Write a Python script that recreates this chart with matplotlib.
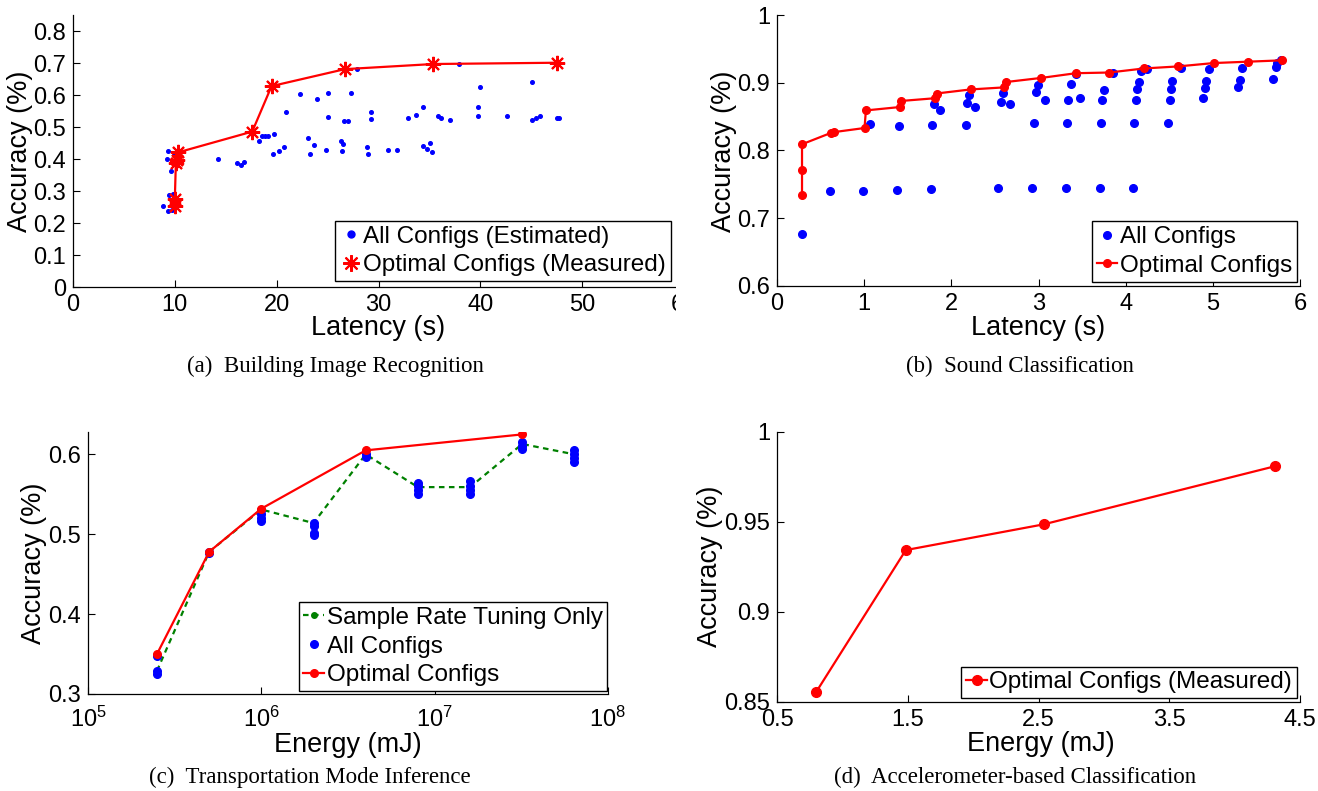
import matplotlib
matplotlib.use('Agg')
import matplotlib.pyplot as plt
import numpy as np
from matplotlib.lines import Line2D
from matplotlib.patches import Rectangle

W, H = 1318, 791
plt.rcParams['font.family'] = ['Liberation Sans', 'DejaVu Sans']
plt.rcParams['mathtext.default'] = 'regular'

# ---------------- (a) Building Image Recognition ----------------
a_all_x = [8.87, 9.34, 9.73, 9.2, 9.3, 9.6, 9.4, 9.8, 9.9, 14.2, 16.1, 16.5, 16.8, 18.3, 18.6,
           18.9, 19.1, 19.7, 19.6, 20.2, 20.7, 20.9, 22.3, 23.1, 23.3, 23.7, 24.0, 24.8, 25.0,
           25.0, 26.3, 26.5, 26.4, 26.6, 27.0, 27.3, 27.9, 28.9, 29.0, 29.3, 29.3, 30.9, 31.8,
           32.9, 33.7, 34.4, 34.4, 34.8, 35.1, 35.3, 35.8, 36.1, 37.0, 37.9, 39.8, 39.8, 40.0,
           42.6, 45.1, 45.1, 45.5, 45.9, 47.5, 47.7]
a_all_y = [0.254, 0.238, 0.241, 0.400, 0.424, 0.363, 0.288, 0.291, 0.413, 0.400, 0.387, 0.382,
           0.390, 0.456, 0.472, 0.473, 0.473, 0.478, 0.417, 0.427, 0.439, 0.546, 0.603, 0.465,
           0.415, 0.445, 0.589, 0.428, 0.608, 0.531, 0.457, 0.447, 0.424, 0.520, 0.520, 0.608,
           0.681, 0.438, 0.417, 0.548, 0.524, 0.430, 0.430, 0.528, 0.538, 0.562, 0.441, 0.432,
           0.450, 0.421, 0.536, 0.530, 0.522, 0.697, 0.562, 0.535, 0.626, 0.535, 0.642, 0.522,
           0.527, 0.535, 0.528, 0.528]
a_opt_x = [10.0, 10.0, 10.1, 10.2, 10.3, 17.6, 19.5, 26.7, 35.4, 47.5]
a_opt_y = [0.255, 0.276, 0.387, 0.397, 0.421, 0.486, 0.628, 0.681, 0.697, 0.701]

# ---------------- (b) Sound Classification ----------------
b_all_x = [0.287, 0.607, 0.992, 1.381, 1.766, 2.54, 2.926, 3.31, 3.70, 4.08,
           1.066, 1.398, 1.783, 2.168, 2.943, 3.328, 3.717, 4.10, 4.49,
           1.80, 1.865, 2.184, 2.20, 2.27, 2.574, 2.594, 2.672, 2.971, 2.99, 3.07,
           3.344, 3.377, 3.48, 3.43, 3.73, 3.746, 3.85, 4.115, 4.13, 4.15, 4.18, 4.246,
           4.504, 4.52, 4.537, 4.64, 4.89, 4.906, 4.92, 4.955, 5.29, 5.307, 5.34,
           5.693, 5.725, 5.74, 5.787]
b_all_y = [0.677, 0.740, 0.740, 0.742, 0.743, 0.744, 0.744, 0.744, 0.745, 0.745,
           0.839, 0.836, 0.837, 0.838, 0.840, 0.840, 0.840, 0.841, 0.841,
           0.868, 0.860, 0.870, 0.882, 0.864, 0.871, 0.885, 0.869, 0.886, 0.896, 0.875,
           0.874, 0.898, 0.877, 0.913, 0.874, 0.889, 0.915, 0.875, 0.891, 0.901, 0.917, 0.920,
           0.875, 0.891, 0.903, 0.922, 0.877, 0.892, 0.903, 0.920, 0.893, 0.904, 0.922,
           0.905, 0.923, 0.929, 0.933]
b_opt_x = [0.287, 0.287, 0.287, 0.623, 0.656, 1.004, 1.02, 1.41, 1.426, 1.81, 1.83, 2.22,
           2.60, 2.63, 3.03, 3.43, 3.81, 4.21, 4.60, 5.01, 5.40, 5.79]
b_opt_y = [0.734, 0.771, 0.809, 0.826, 0.827, 0.833, 0.859, 0.864, 0.873, 0.877, 0.884, 0.890,
           0.893, 0.901, 0.907, 0.914, 0.915, 0.921, 0.924, 0.929, 0.931, 0.933]

# ---------------- (c) Transportation Mode Inference ----------------
c_energy = [2.5e5, 5e5, 1e6, 2e6, 4e6, 8e6, 1.6e7, 3.2e7, 6.4e7]
c_all = [[0.347, 0.329, 0.325],
         [0.478, 0.476],
         [0.530, 0.525, 0.520, 0.516],
         [0.514, 0.510, 0.502, 0.499],
         [0.600, 0.597],
         [0.564, 0.560, 0.555, 0.551],
         [0.567, 0.560, 0.555, 0.551],
         [0.615, 0.611, 0.607],
         [0.605, 0.600, 0.595, 0.590]]
c_rate_y = [0.329, 0.478, 0.531, 0.514, 0.600, 0.559, 0.559, 0.613, 0.600]
c_opt_x = [2.5e5, 5e5, 1e6, 4e6, 3.2e7]
c_opt_y = [0.350, 0.478, 0.532, 0.605, 0.625]

# ---------------- (d) Accelerometer-based Classification ----------------
d_x = [0.80, 1.485, 2.54, 4.31]
d_y = [0.8556, 0.9344, 0.9487, 0.981]

fig = plt.figure(figsize=(W / 100, H / 100), dpi=100)

TICK_FS = 17
LABEL_FS = 19.5
LEG_FS = 17.5


def axes_px(l, t, r, b):
    return fig.add_axes([l / W, 1 - b / H, (r - l) / W, (b - t) / H])


def style(ax):
    for s in ['top', 'right']:
        ax.spines[s].set_visible(False)
    for s in ['left', 'bottom']:
        ax.spines[s].set_linewidth(0.9)
    ax.tick_params(direction='in', length=5, width=0.8, labelsize=TICK_FS, pad=5, colors='black')
    ax.minorticks_off()


def labels(ax, xtxt, xcx, xcy, ytxt, ycx, ycy):
    ax.set_xlabel(xtxt, fontsize=LABEL_FS, va='center', ha='center')
    ax.xaxis.set_label_coords(xcx / W, 1 - xcy / H, transform=fig.transFigure)
    ax.set_ylabel(ytxt, fontsize=LABEL_FS, va='center', ha='center')
    ax.yaxis.set_label_coords(ycx / W, 1 - ycy / H, transform=fig.transFigure)


def legend(ax, handles, labs, x, y, loc):
    lg = ax.legend(handles, labs, loc=loc, bbox_to_anchor=(x / W, 1 - y / H),
                   bbox_transform=fig.transFigure, fontsize=LEG_FS, frameon=True, fancybox=False,
                   edgecolor='black', framealpha=1, borderpad=0.2, labelspacing=0.27,
                   handlelength=0.85, handletextpad=0.1, borderaxespad=0)
    lg.get_frame().set_linewidth(1.0)
    return lg


red = (1, 0, 0)
blue = (0, 0, 1)
green = (0, 0.5, 0)
star = (8, 2, 0)
LW = 1.6

# (a)
ax = axes_px(73, 15, 684, 287.3)
style(ax)
ax.plot(a_all_x, a_all_y, 'o', color=blue, ms=2.6, mec=blue)
ax.plot(a_opt_x, a_opt_y, '-', color=red, lw=LW, marker=star, ms=11, mew=1.5, mec=red)
ax.set_xlim(0, 60)
ax.set_ylim(0, 0.85)
ax.set_xticks([0, 10, 20, 30, 40, 50, 60])
ax.set_yticks([0, 0.1, 0.2, 0.3, 0.4, 0.5, 0.6, 0.7, 0.8])
ax.set_yticklabels(['0', '0.1', '0.2', '0.3', '0.4', '0.5', '0.6', '0.7', '0.8'])
labels(ax, 'Latency (s)', 378, 328, 'Accuracy (%)', 20, 151)
h1 = Line2D([], [], ls='none', marker='o', color=blue, ms=5)
h2 = Line2D([], [], ls='none', marker=star, color=red, ms=12, mew=1.5)
legend(ax, [h1, h2], ['All Configs (Estimated)', 'Optimal Configs (Measured)'], 671, 281, 'lower right')
fig.add_artist(Rectangle((676 / W, 1 - 345 / H), 30 / W, 345 / H, transform=fig.transFigure,
                         facecolor='white', edgecolor='none', zorder=10))

# (b)
ax = axes_px(777, 15, 1300, 285.7)
style(ax)
ax.plot(b_all_x, b_all_y, 'o', color=blue, ms=5.5, mec=blue, ls='none')
ax.plot(b_opt_x, b_opt_y, '-o', color=red, lw=LW, ms=5.5, mec=red)
ax.set_xlim(0, 6)
ax.set_ylim(0.6, 1)
ax.set_xticks([0, 1, 2, 3, 4, 5, 6])
ax.set_yticks([0.6, 0.7, 0.8, 0.9, 1.0])
ax.set_yticklabels(['0.6', '0.7', '0.8', '0.9', '1'])
labels(ax, 'Latency (s)', 1038.5, 328, 'Accuracy (%)', 724, 151)
h1 = Line2D([], [], ls='none', marker='o', color=blue, ms=5.5)
h2 = Line2D([], [], ls='-', marker='o', color=red, ms=5.5, lw=LW)
legend(ax, [h1, h2], ['All Configs', 'Optimal Configs'], 1297, 281.7, 'lower right')

# (c)
ax = axes_px(88, 432, 608, 694)
style(ax)
ax.set_xscale('log')
for xe, ys in zip(c_energy, c_all):
    ax.plot([xe] * len(ys), ys, 'o', color=blue, ms=5.5, mec=blue, ls='none', zorder=3)
ax.plot(c_energy, c_rate_y, color=green, lw=1.6, ls=(0, (2.5, 2.0)), zorder=2)
ax.plot(c_opt_x, c_opt_y, '-o', color=red, lw=LW, ms=5.5, mec=red, zorder=4)
ax.set_xlim(1e5, 1e8)
ax.set_ylim(0.3, 0.628)
ax.set_xticks([1e5, 1e6, 1e7, 1e8])
ax.minorticks_off()
ax.tick_params(axis='x', pad=9)
ax.set_yticks([0.3, 0.4, 0.5, 0.6])
ax.set_yticklabels(['0.3', '0.4', '0.5', '0.6'])
labels(ax, 'Energy (mJ)', 348, 745, 'Accuracy (%)', 34, 563)
h0 = Line2D([], [], ls=(0, (2.5, 2.0)), marker='o', color=green, ms=4, lw=1.6)
h1 = Line2D([], [], ls='none', marker='o', color=blue, ms=5.5)
h2 = Line2D([], [], ls='-', marker='o', color=red, ms=5.5, lw=LW)
legend(ax, [h0, h1, h2], ['Sample Rate Tuning Only', 'All Configs', 'Optimal Configs'],
       298.6, 691, 'lower left')

# (d)
ax = axes_px(777, 432, 1300, 702)
style(ax)
ax.plot(d_x, d_y, '-o', color=red, lw=LW, ms=7, mec=red)
ax.set_xlim(0.5, 4.5)
ax.set_ylim(0.85, 1.0)
ax.set_xticks([0.5, 1.5, 2.5, 3.5, 4.5])
ax.set_xticklabels(['0.5', '1.5', '2.5', '3.5', '4.5'])
ax.set_yticks([0.85, 0.9, 0.95, 1.0])
ax.set_yticklabels(['0.85', '0.9', '0.95', '1'])
labels(ax, 'Energy (mJ)', 1041, 744, 'Accuracy (%)', 710, 566)
h2 = Line2D([], [], ls='-', marker='o', color=red, ms=7, lw=LW)
legend(ax, [h2], ['Optimal Configs (Measured)'], 1297, 698.3, 'lower right')

# captions
cap = dict(family=['Liberation Serif', 'DejaVu Serif'], fontsize=16.5, ha='center', va='center')
fig.text(335 / W, 1 - 366 / H, '(a)  Building Image Recognition', **cap)
fig.text(1020 / W, 1 - 366 / H, '(b)  Sound Classification', **cap)
fig.text(310 / W, 1 - 777 / H, '(c)  Transportation Mode Inference', **cap)
fig.text(1015 / W, 1 - 777 / H, '(d)  Accelerometer-based Classification', **cap)

fig.savefig('out.png', dpi=100)
